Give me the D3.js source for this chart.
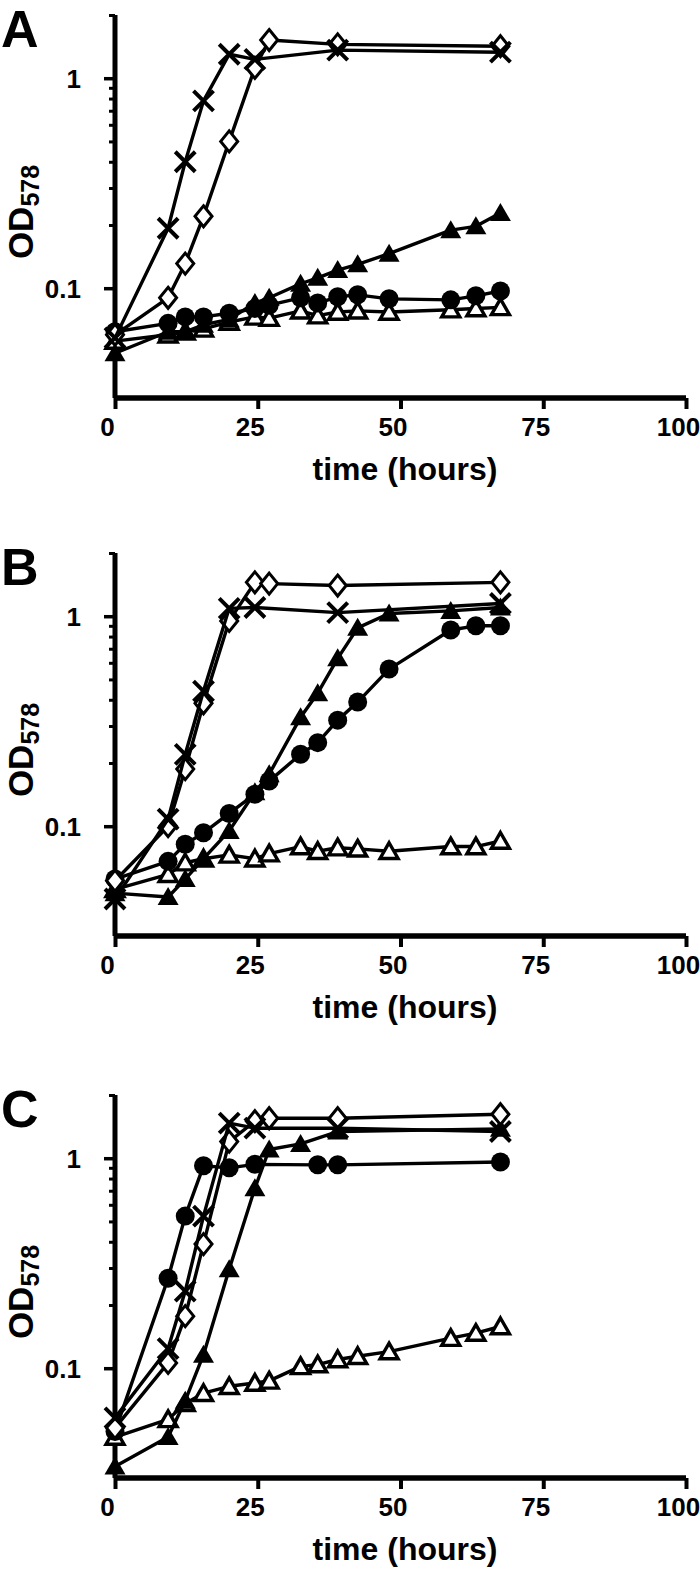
<!DOCTYPE html>
<html>
<head>
<meta charset="utf-8">
<script src="https://cdn.jsdelivr.net/npm/d3@7"></script>
<style>
  html, body { margin: 0; padding: 0; background: #fff; }
  svg { display: block; }
  text { font-family: "Liberation Sans", Arial, sans-serif; font-weight: bold; fill: #000; }
</style>
</head>
<body>
<svg id="chart" width="700" height="1571"></svg>
<script>
// ---------------- data ----------------
const panelLetters = ["A", "B", "C"];
const times = [0, 9.3, 12.3, 15.5, 20, 24.5, 27, 32.5, 35.5, 39, 42.5, 48, 58.8, 63.2, 67.5];
const xTicks = [0, 25, 50, 75, 100];
const yMajorTicks = [0.1, 1];
const yTickLabels = ["0.1", "1"];
const yMinorTicks = [0.2, 0.3, 0.4, 0.5, 0.6, 0.7, 0.8, 0.9, 2];
const xTitle = "time (hours)";

// Panel A
const crossA    = [0.058, 0.193, 0.40, 0.78, 1.30, 1.23, null, null, null, 1.36, null, null, null, null, 1.33];
const diamondA  = [0.060, 0.090, 0.131, 0.22, 0.50, 1.12, 1.52, null, null, 1.45, null, null, null, null, 1.42];
const triFillA  = [0.049, 0.062, 0.062, 0.067, 0.071, 0.085, 0.090, 0.105, 0.112, 0.122, 0.130, 0.146, 0.189, 0.197, 0.228];
const circleA   = [0.062, 0.068, 0.073, 0.073, 0.076, 0.080, 0.083, 0.090, 0.085, 0.091, 0.093, 0.089, 0.088, 0.092, 0.097];
const triOpenA  = [0.056, 0.060, 0.062, 0.064, 0.069, 0.073, 0.072, 0.078, 0.074, 0.077, 0.078, 0.077, 0.079, 0.080, 0.081];

// Panel B
const crossB    = [0.045, 0.108, 0.22, 0.44, 1.09, 1.10, null, null, null, 1.04, null, null, null, null, 1.15];
const diamondB  = [0.055, 0.100, 0.187, 0.385, 0.95, 1.45, 1.43, null, null, 1.40, null, null, null, null, 1.45];
const triFillB  = [0.048, 0.046, 0.056, 0.070, 0.095, 0.145, 0.177, 0.33, 0.43, 0.63, 0.88, 1.03, 1.06, null, 1.10];
const circleB   = [0.056, 0.068, 0.082, 0.093, 0.115, 0.142, 0.164, 0.22, 0.25, 0.32, 0.39, 0.56, 0.86, 0.90, 0.90];
const triOpenB  = [0.050, 0.059, 0.067, 0.070, 0.073, 0.070, 0.074, 0.080, 0.076, 0.079, 0.078, 0.076, 0.080, 0.080, 0.085];

// Panel C
const crossC    = [0.058, 0.124, 0.233, 0.53, 1.47, 1.39, null, null, null, 1.39, null, null, null, null, 1.34];
const diamondC  = [0.052, 0.106, 0.177, 0.39, 1.20, 1.50, 1.55, null, null, 1.55, null, null, null, null, 1.62];
const triFillC  = [0.034, 0.047, 0.070, 0.116, 0.296, 0.72, 1.10, 1.17, null, 1.34, null, null, null, null, 1.38];
const circleC   = [0.050, 0.268, 0.53, 0.92, 0.90, 0.935, null, null, 0.93, 0.93, null, null, null, null, 0.96];
const triOpenC  = [0.047, 0.057, 0.068, 0.076, 0.082, 0.085, 0.087, 0.102, 0.104, 0.110, 0.114, 0.120, 0.139, 0.147, 0.158];

const panelSeries = [
  {triOpen: triOpenA, circle: circleA, triFill: triFillA, diamond: diamondA, cross: crossA},
  {triOpen: triOpenB, circle: circleB, triFill: triFillB, diamond: diamondB, cross: crossB},
  {triOpen: triOpenC, circle: circleC, triFill: triFillC, diamond: diamondC, cross: crossC}
];
const drawOrder = ["triOpen", "circle", "triFill", "diamond", "cross"];

// ---------------- layout ----------------
const panelTops = [15, 553, 1095];
const plotH = 383;
const xLeft = 115, xRight = 686;

const svg = d3.select("#chart");
const x = d3.scaleLinear().domain([0, 100]).range([xLeft, xRight]);

const markerPaths = {
  triFill: "M0,-10L10.5,8L-10.5,8Z",
  triOpen: "M0,-8.5L9,7.2L-9,7.2Z",
  diamond: "M0,-10.5L8.5,0L0,10.5L-8.5,0Z",
  cross: "M-10,-10L10,10M-10,10L10,-10"
};

panelTops.forEach((top, pi) => {
  const g = svg.append("g");
  const y = d3.scaleLog().domain([0.03, 2]).range([top + plotH, top]);

  // panel letter
  g.append("text").attr("x", 1).attr("y", top + 32)
    .style("font-size", "52px").text(panelLetters[pi]);

  // y axis (line + ticks)
  const yAxis = d3.axisLeft(y).tickValues(yMajorTicks).tickSize(11)
    .tickFormat((d, i) => yTickLabels[i]).tickPadding(23);
  const yg = g.append("g").attr("transform", `translate(${xLeft},0)`).call(yAxis);
  yg.select(".domain").attr("stroke-width", 5).attr("d", `M0,${top}V${top + plotH}`);
  yg.selectAll(".tick line").attr("stroke-width", 3.5);
  yg.selectAll(".tick text").style("font-size", "26px").attr("dy", "0.36em");
  const yMinor = d3.axisLeft(y).tickValues(yMinorTicks).tickSize(6).tickFormat("");
  const ymg = g.append("g").attr("transform", `translate(${xLeft},0)`).call(yMinor);
  ymg.select(".domain").remove();
  ymg.selectAll(".tick line").attr("stroke-width", 3);

  // x axis
  const xAxis = d3.axisBottom(x).tickValues(xTicks).tickSize(11).tickPadding(9);
  const xg = g.append("g").attr("transform", `translate(0,${top + plotH})`).call(xAxis);
  xg.select(".domain").attr("stroke-width", 5.5).attr("d", `M${xLeft},0H${xRight}`);
  xg.selectAll(".tick line").attr("stroke-width", 4);
  xg.selectAll(".tick text").style("font-size", "26px").attr("dx", -8);

  // x title
  g.append("text").attr("x", 405).attr("y", top + plotH + 82)
    .attr("text-anchor", "middle").style("font-size", "32px").text(xTitle);

  // y title
  const yt = g.append("text")
    .attr("transform", `translate(33,${top + 197}) rotate(-90)`)
    .attr("text-anchor", "middle").style("font-size", "35px");
  yt.append("tspan").text("OD");
  yt.append("tspan").attr("dy", 6).style("font-size", "25px").text("578");

  // series
  const line = d3.line().x(d => x(d.t)).y(d => y(d.v));
  const series = panelSeries[pi];
  drawOrder.forEach(key => {
    const pts = times.map((t, i) => ({t: t, v: series[key][i]})).filter(d => d.v != null);
    g.append("path").datum(pts).attr("d", line)
      .attr("fill", "none").attr("stroke", "#000").attr("stroke-width", 3.4)
      .attr("stroke-linejoin", "round");
    const mg = g.append("g");
    pts.forEach(d => {
      const cx = x(d.t), cy = y(d.v);
      if (key === "circle") {
        mg.append("circle").attr("cx", cx).attr("cy", cy).attr("r", 9.5).attr("fill", "#000");
      } else if (key === "triFill") {
        mg.append("path").attr("d", markerPaths.triFill).attr("transform", `translate(${cx},${cy})`)
          .attr("fill", "#000");
      } else if (key === "triOpen") {
        mg.append("path").attr("d", markerPaths.triOpen).attr("transform", `translate(${cx},${cy})`)
          .attr("fill", "#fff").attr("stroke", "#000").attr("stroke-width", 3.4).attr("stroke-linejoin", "miter");
      } else if (key === "diamond") {
        mg.append("path").attr("d", markerPaths.diamond).attr("transform", `translate(${cx},${cy})`)
          .attr("fill", "#fff").attr("stroke", "#000").attr("stroke-width", 3);
      } else if (key === "cross") {
        mg.append("path").attr("d", markerPaths.cross).attr("transform", `translate(${cx},${cy})`)
          .attr("fill", "none").attr("stroke", "#000").attr("stroke-width", 4);
      }
    });
  });
});
</script>
</body>
</html>
